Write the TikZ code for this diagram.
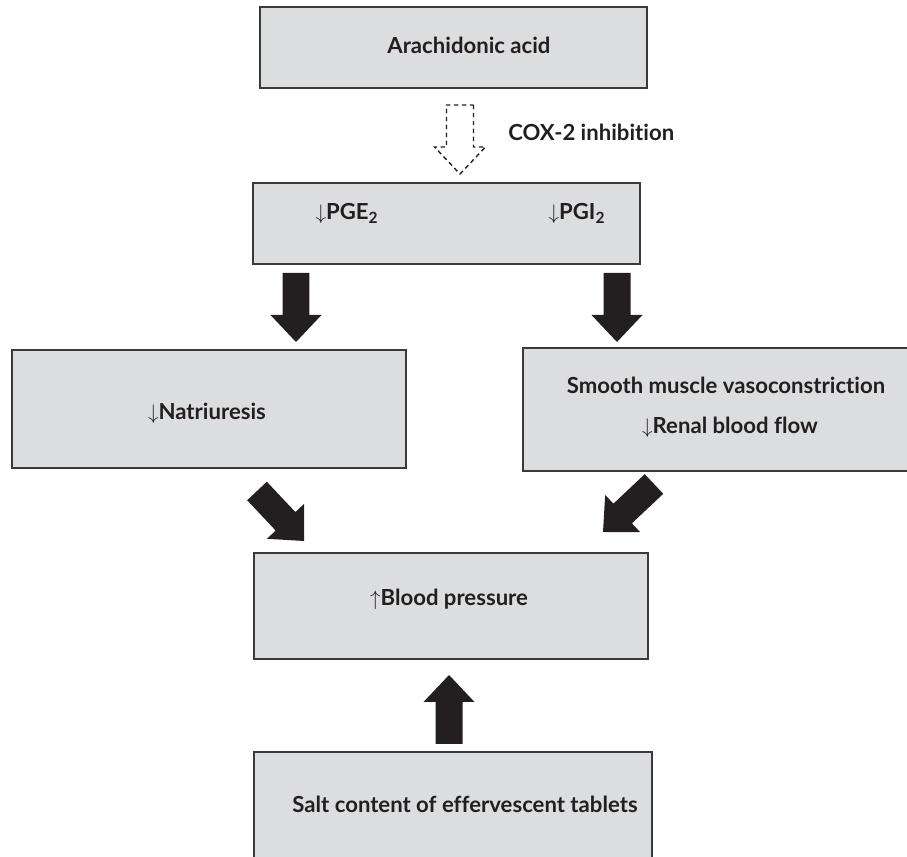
\documentclass[tikz,border=0pt]{standalone}
\usepackage{fontspec}
\setmainfont{Lato}[Ligatures=NoCommon]
\usepackage{tikz}
\usetikzlibrary{
    calc
}
\definecolor{boxgray}{HTML}{DCDDDE}
\definecolor{edgegray}{HTML}{3A3A3A}
\definecolor{inkblack}{HTML}{231F20}
\newcommand{\FatArrow}[3]{%
  \coordinate (FAh) at ($(#2)!0.54cm!(#1)$);
  \filldraw[#3]
    ($(#1)!0.27cm!90:(#2)$) -- ($(FAh)!0.27cm!-90:(#1)$) --
    ($(FAh)!0.51cm!-90:(#1)$) -- (#2) --
    ($(FAh)!0.51cm!90:(#1)$) -- ($(FAh)!0.27cm!90:(#1)$) --
    ($(#1)!0.27cm!-90:(#2)$) -- cycle;
}

\begin{document}
\begin{tikzpicture}[x=0.02cm,y=-0.02cm,
  box/.style={draw=edgegray,fill=boxgray,line width=0.8pt,inner sep=0pt},
  txt/.style={font=\bfseries\fontsize{12.6}{14}\selectfont,text=inkblack,inner sep=0pt},
  solidarrow/.style={fill=inkblack,draw=none},
  hollowarrow/.style={draw=inkblack,fill=white,line width=0.8pt,
    dash pattern=on 2.5pt off 2pt}]
\clip (0,0) rectangle (907,857);
% boxes
\node[box,minimum width=7.74cm,minimum height=1.62cm] (acid) at (453.5,47.5) {};
\node[box,minimum width=7.74cm,minimum height=1.62cm] (pg) at (446.5,223.5) {};
\node[box,minimum width=7.88cm,minimum height=2.36cm] (natri) at (209,409) {};
\node[box,minimum width=7.94cm,minimum height=2.46cm] (vaso) at (721.5,409.5) {};
\node[box,minimum width=7.88cm,minimum height=2.12cm] (bp) at (451,606) {};
\node[box,minimum width=7.96cm,minimum height=2.36cm] (salt) at (453,811) {};
% texts
\node[txt] (acidtxt) at (469,45) {Arachidonic acid};
\node[txt,anchor=west] (coxtxt) at (508,132) {COX-2 inhibition};
\node[txt] (pgetxt) at (347,213) {$\downarrow$PGE\textsubscript{2}};
\node[txt] (pgitxt) at (577,213) {$\downarrow$PGI\textsubscript{2}};
\node[txt] (natritxt) at (207,413) {$\downarrow$Natriuresis};
\node[txt] (vasotxt) at (726,385) {Smooth muscle vasoconstriction};
\node[txt] (renaltxt) at (730,427) {$\downarrow$Renal blood flow};
\node[txt] (bptxt) at (449,599) {$\uparrow$Blood pressure};
\node[txt] (salttxt) at (465,804) {Salt content of effervescent tablets};
% arrow ends
\coordinate (coxA) at (460,105);
\coordinate (coxB) at (460,174);
\coordinate (pgeA) at (296,273);
\coordinate (pgeB) at (296,342);
\coordinate (pgiA) at (617,273);
\coordinate (pgiB) at (617,342);
\coordinate (natA) at (257,491);
\coordinate (natB) at (304,541);
\coordinate (vasA) at (654,484);
\coordinate (vasB) at (603,532);
\coordinate (saltA) at (449,744);
\coordinate (saltB) at (449,675);
% block arrows
\FatArrow{coxA}{coxB}{hollowarrow}
\FatArrow{pgeA}{pgeB}{solidarrow}
\FatArrow{pgiA}{pgiB}{solidarrow}
\FatArrow{natA}{natB}{solidarrow}
\FatArrow{vasA}{vasB}{solidarrow}
\FatArrow{saltA}{saltB}{solidarrow}
\end{tikzpicture}
\end{document}
